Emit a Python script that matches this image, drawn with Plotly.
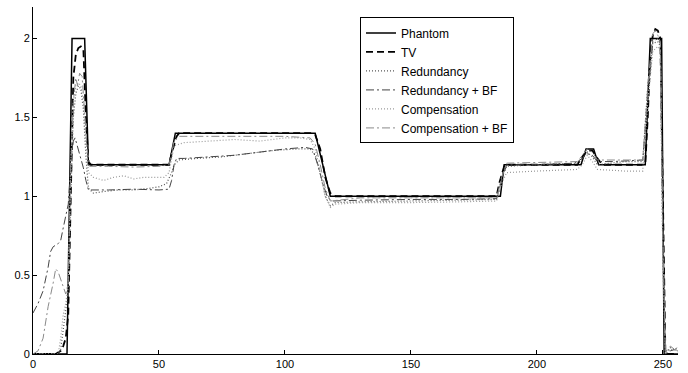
import plotly.graph_objects as go

# ---- data ----
phantom_x = [0, 13.5, 15.5, 20.5, 22, 54, 56.5, 112, 118, 185.5, 187, 217.5, 219.5, 222.5, 224.5, 243, 245, 249.5, 250.5, 256]
phantom_y = [0, 0, 2, 2, 1.2, 1.2, 1.4, 1.4, 1.0, 1.0, 1.2, 1.2, 1.3, 1.3, 1.2, 1.2, 2, 2, 0, 0]

tv_x = [0, 9, 11, 12, 13, 14, 15, 16, 17, 18, 19, 20, 21, 22, 23, 54, 55, 57, 58, 111, 112, 114, 116, 118, 120,
        184, 185, 187, 188, 216, 218, 220, 222, 224, 226, 243, 244, 245, 246, 247, 248, 249, 250, 251, 256]
tv_y = [0, 0, 0.02, 0.05, 0.1, 0.25, 1.0, 1.75, 1.9, 1.94, 1.95, 1.93, 1.5, 1.22, 1.2, 1.2, 1.27, 1.38, 1.4, 1.4, 1.39, 1.3, 1.12, 1.02, 1.0,
        1.0, 1.08, 1.19, 1.2, 1.2, 1.25, 1.29, 1.29, 1.24, 1.2, 1.2, 1.5, 1.9, 2.02, 2.06, 2.05, 2.0, 1.0, 0, 0]

red_x = [0, 10, 11, 12, 13, 14, 15, 16, 17, 18, 19, 20, 21, 22, 24, 28, 34, 40, 46, 50, 53, 55, 56, 58, 65, 75, 85, 95, 105, 110,
         112, 114, 116, 118, 120, 130, 150, 170, 184, 186, 188, 200, 216, 218, 220, 222, 224, 235, 242, 244, 246, 248, 249, 250, 251, 253, 256]
red_y = [0, 0, 0.03, 0.15, 0.28, 0.4, 1.0, 1.5, 1.65, 1.7, 1.68, 1.55, 1.25, 1.05, 1.02, 1.03, 1.04, 1.04, 1.05, 1.06, 1.08, 1.15, 1.2, 1.23, 1.24, 1.25, 1.27, 1.29, 1.3, 1.3,
         1.26, 1.15, 1.0, 0.94, 0.96, 0.965, 0.97, 0.975, 0.98, 1.12, 1.19, 1.2, 1.21, 1.24, 1.28, 1.25, 1.2, 1.22, 1.22, 1.7, 1.97, 1.98, 1.95, 0.6, 0, 0.04, 0.02]

redbf_x = [0, 2, 4, 6, 7, 8, 10, 11, 12, 13, 14, 15, 16, 16.7, 18, 19, 20, 21, 22, 30, 40, 50, 54, 55, 56, 57, 60, 70, 80, 90, 100, 108, 111,
           113, 115, 117, 119, 130, 150, 170, 184, 186, 188, 200, 215, 218, 220, 222, 224, 230, 242, 244, 246, 248, 249, 250, 251, 253, 255, 256]
redbf_y = [0.26, 0.32, 0.4, 0.55, 0.65, 0.68, 0.7, 0.72, 0.8, 0.88, 0.95, 1.2, 1.35, 1.37, 1.3, 1.25, 1.18, 1.1, 1.04, 1.04, 1.045, 1.04, 1.045, 1.1, 1.2, 1.24, 1.24, 1.25, 1.26, 1.28, 1.3, 1.31, 1.3,
           1.2, 1.08, 0.99, 0.97, 0.975, 0.98, 0.98, 0.985, 1.1, 1.2, 1.2, 1.21, 1.24, 1.27, 1.26, 1.22, 1.22, 1.23, 1.6, 1.98, 2.0, 1.98, 0.8, 0.02, 0.02, 0.03, 0.05]

comp_x = [0, 10, 11, 12, 13, 14, 15, 16, 17, 18, 19, 20, 21, 22, 24, 28, 32, 36, 40, 44, 48, 52, 54, 55, 56, 60, 70, 80, 90, 100, 106, 110,
          112, 114, 116, 118, 120, 130, 150, 170, 184, 186, 188, 200, 216, 218, 220, 222, 224, 235, 242, 244, 246, 248, 249, 250, 251, 253, 256]
comp_y = [0, 0, 0.1, 0.25, 0.32, 0.45, 1.2, 1.6, 1.7, 1.72, 1.7, 1.6, 1.35, 1.15, 1.12, 1.1, 1.12, 1.13, 1.11, 1.12, 1.12, 1.12, 1.15, 1.25, 1.32, 1.34, 1.35, 1.36, 1.35, 1.37, 1.37, 1.36,
          1.3, 1.15, 1.0, 0.93, 0.95, 0.96, 0.96, 0.965, 0.97, 1.08, 1.15, 1.16, 1.17, 1.2, 1.26, 1.22, 1.17, 1.16, 1.16, 1.6, 1.92, 1.95, 1.93, 0.6, 0, 0.03, 0.02]

compbf_x = [0, 2, 4, 6, 8, 9, 10, 11, 12, 13, 14, 15, 16, 17, 17.7, 18.5, 19.5, 20.5, 21.5, 22.5, 30, 40, 50, 54, 56, 58, 80, 100, 110,
            112, 114, 116, 118, 130, 150, 170, 184, 186, 188, 216, 218, 220, 222, 224, 242, 244, 246, 247, 248, 249, 250, 251, 253, 256]
compbf_y = [0, 0.02, 0.1, 0.3, 0.45, 0.54, 0.52, 0.47, 0.42, 0.38, 0.45, 1.2, 1.6, 1.75, 1.7, 1.78, 1.76, 1.55, 1.3, 1.19, 1.19, 1.185, 1.19, 1.2, 1.35, 1.38, 1.38, 1.38, 1.37,
            1.33, 1.2, 1.05, 0.97, 0.99, 0.99, 0.99, 0.99, 1.12, 1.21, 1.22, 1.26, 1.3, 1.28, 1.23, 1.23, 1.7, 2.03, 2.05, 2.02, 1.98, 0.7, 0.01, 0.05, 0.01]

x_ticks = [0, 50, 100, 150, 200, 250]
y_ticks = [0, 0.5, 1, 1.5, 2]

series = [
    ("Phantom", phantom_x, phantom_y, "#000000", "solid", 1.5),
    ("TV", tv_x, tv_y, "#000000", "7px,4px", 1.8),
    ("Redundancy", red_x, red_y, "#555555", "1px,2px", 1.2),
    ("Redundancy + BF", redbf_x, redbf_y, "#444444", "8px,3px,2px,3px", 1.0),
    ("Compensation", comp_x, comp_y, "#9a9a9a", "1px,2px", 1.2),
    ("Compensation + BF", compbf_x, compbf_y, "#8a8a8a", "8px,3px,2px,3px", 1.0),
]

fig = go.Figure()
for name, xs, ys, color, dash, w in series:
    fig.add_trace(go.Scatter(x=xs, y=ys, mode="lines", name=name,
                             line=dict(color=color, dash=dash, width=w)))

fig.update_layout(
    width=688, height=373,
    margin=dict(l=33, r=10, t=7, b=19, autoexpand=False),
    paper_bgcolor="white", plot_bgcolor="white",
    font=dict(family="Liberation Sans, Arial, sans-serif", size=11, color="#000000"),
    showlegend=True,
    legend=dict(x=0.507, y=0.97, xanchor="left", yanchor="top",
                bgcolor="white", bordercolor="black", borderwidth=1,
                font=dict(size=12), tracegroupgap=0),
)
fig.update_xaxes(range=[0, 256], tickvals=x_ticks, ticks="inside", ticklen=4,
                 showline=True, linecolor="black", linewidth=1, showgrid=False,
                 zeroline=False, tickcolor="black", automargin=False)
fig.update_yaxes(range=[0, 2.2], tickvals=y_ticks, ticks="inside", ticklen=4,
                 showline=True, linecolor="black", linewidth=1, showgrid=False,
                 zeroline=False, tickcolor="black", automargin=False)

fig.write_html("out.html", config={"displayModeBar": False},
               post_script="document.body.style.margin='0';document.body.style.overflow='hidden';")
